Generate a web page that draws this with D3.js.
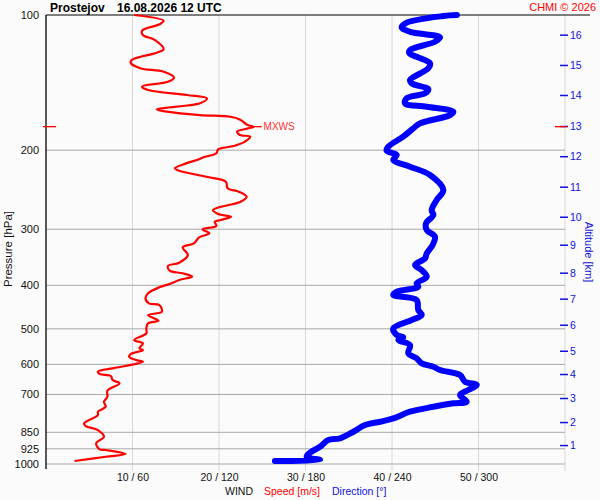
<!DOCTYPE html>
<html>
<head>
<meta charset="utf-8">
<script src="https://cdn.jsdelivr.net/npm/d3@7"></script>
<style>
  body { margin: 0; background: #fbfbfb; }
  text { font-family: "Liberation Sans", Arial, sans-serif; }
</style>
</head>
<body>
<div id="chart"></div>
<script>
// wind speed profile [m/s] vs pressure [hPa]
const speedPressure = [100, 103, 104.7, 108.4, 110.8, 113.7, 119.2, 121.3, 126, 127.9, 131.4, 133.8, 137.9, 140.8,
  144.4, 146.9, 150.7, 153.3, 157.3, 162.2, 164.2, 167.1, 168.5, 170.8, 175.8, 177.3, 178.8, 181.9, 185, 186.6,
  191.5, 195.8, 199.2, 203.2, 207.4, 209.6, 214, 219.5, 222.3, 229.2, 235.1, 243.2, 247.5, 253.9, 260.5, 268.1,
  271.9, 277.5, 281.4, 286.2, 288.7, 295.1, 300.1, 306.3, 312.7, 322.5, 329.2, 342.4, 356.2, 362.2, 371.1, 376.1,
  382.6, 389.2, 397.3, 404.1, 416.7, 427.6, 438.7, 442.5, 458, 465.9, 479.6, 486.1, 498.7, 511.7, 529.6, 538.6,
  552.6, 557.5, 568.9, 576.8, 586.7, 591.8, 605, 612.2, 622.9, 630.4, 636.8, 650, 661.2, 686.7, 708.2, 726.6,
  745.5, 764.9, 778, 811.9, 823.2, 840.2, 869.6, 899.4, 927.6, 930.9, 950.2, 963.6, 984.7];
const speedValues = [10.2, 13.6, 13.2, 11.1, 11.2, 12.6, 13.6, 12.8, 9.9, 9.8, 10.9, 13.6, 14.8, 14.1,
  11.1, 11.8, 16.3, 18.6, 17.8, 12.8, 14.0, 17.8, 21.3, 22.4, 23.3, 24.0, 23.4, 22.1, 22.4, 23.6,
  23.0, 21.7, 19.9, 19.7, 18.2, 17.7, 16.2, 14.9, 15.4, 18.5, 20.8, 21.0, 22.3, 23.2, 22.5, 20.0,
  19.3, 19.9, 21.4, 20.2, 19.5, 19.7, 18.1, 18.9, 17.7, 17.1, 15.8, 16.4, 15.4, 14.1, 14.3, 15.8,
  16.9, 15.4, 14.3, 13.1, 11.8, 11.5, 11.9, 13.1, 13.4, 11.8, 13.0, 11.8, 11.6, 11.6, 10.2, 11.2,
  10.8, 11.2, 9.8, 9.6, 10.4, 11.2, 9.2, 7.7, 6.0, 6.2, 7.5, 7.7, 8.5, 7.1, 7.1, 6.7,
  6.9, 6.0, 6.0, 4.4, 4.6, 6.0, 6.7, 5.8, 6.2, 6.9, 9.2, 6.9, 3.3];

// wind direction profile [deg] vs pressure [hPa]
const dirPressure = [100, 100.5, 104, 106.5, 109, 112.1, 114.7, 119.7, 121.7, 123.9, 128.1, 131.4, 139.6, 142,
  146.4, 149.4, 153.3, 157.3, 160.1, 164.2, 167.1, 174.3, 178.8, 186.6, 196.5, 200.6, 205, 210.3, 217.7, 227.2,
  245.4, 258.2, 271.9, 278.9, 291.1, 301.2, 311.7, 325.2, 339.4, 348.3, 360.4, 369.8, 382.7, 396, 402.9, 413.4,
  420.4, 431.3, 453.9, 465.9, 478, 498.7, 516.1, 522.2, 529.6, 543.3, 567, 581.6, 596.7, 607.2, 617.5, 633.6,
  655.6, 666.8, 684.3, 702, 726.6, 732.6, 745.5, 764.9, 791.3, 805.2, 818.9, 847.6, 876.8, 884.4, 915.2, 943.6,
  963.6, 979.7, 985];
const dirValues = [285, 275.6, 250.2, 246.7, 252.5, 273.3, 269.8, 252.5, 252, 257.1, 266.4, 265.2, 252.5, 253.7,
  265.2, 262.9, 250.2, 249, 264.1, 282.5, 280.2, 259.4, 254.8, 247.8, 237.4, 236.3, 243.3, 240.9, 252.5, 266.4,
  275.6, 271, 267.5, 268.7, 263.6, 264.1, 269.8, 268.2, 264.1, 262.9, 256, 260.6, 264.1, 257.1, 258.2, 243.3,
  240.9, 257.1, 258.2, 260.6, 253.7, 240.9, 243.3, 247.8, 244.4, 252.5, 251.3, 257.1, 260.6, 268.7, 273.3, 287.2,
  290.6, 298.8, 292.9, 287.2, 291.8, 282.5, 268.7, 252.5, 240.9, 231.7, 221.3, 213.2, 203.9, 195.8, 190.1, 183.1,
  180.8, 190.1, 158.8];

// max wind
const maxWindPressure = 177.3;
const maxWindSpeed = 24.0;

// axes
const pressureTicks = [100, 200, 300, 400, 500, 600, 700, 850, 925, 1000];
const speedTicks = [10, 20, 30, 40, 50];
const altitudeKm = [1, 2, 3, 4, 5, 6, 7, 8, 9, 10, 11, 12, 13, 14, 15, 16];
const altitudePressure = [907.4, 806.5, 712.9, 630.4, 559.5, 489.6, 428.3, 374.9, 324.8, 281.4, 241.2, 206.3,
  176.7, 150.7, 129.2, 110.6];

let dimensions = {
  width: 600,
  height: 500,
  margin: { top: 15, right: 35, bottom: 36, left: 46 },
};
dimensions.boundedWidth = dimensions.width - dimensions.margin.left - dimensions.margin.right;
dimensions.boundedHeight = dimensions.height - dimensions.margin.top - dimensions.margin.bottom;

const wrapper = d3.select("#chart")
  .append("svg")
  .attr("width", dimensions.width)
  .attr("height", dimensions.height)
  .style("background", "#fbfbfb");

const bounds = wrapper.append("g")
  .attr("transform", `translate(${dimensions.margin.left},${dimensions.margin.top})`);

const yScale = d3.scaleLog().domain([100, 1000]).range([0, dimensions.boundedHeight]);
const xSpeed = d3.scaleLinear().domain([0, 60]).range([0, dimensions.boundedWidth]);
const xDir = d3.scaleLinear().domain([0, 360]).range([0, dimensions.boundedWidth]);

// vertical grid
bounds.append("g")
  .selectAll("line")
  .data(speedTicks.concat([60]))
  .join("line")
  .attr("x1", d => xSpeed(d)).attr("x2", d => xSpeed(d))
  .attr("y1", 0).attr("y2", dimensions.boundedHeight + 7)
  .attr("stroke", "#d8d8d8");

// horizontal grid
bounds.append("g")
  .selectAll("line")
  .data(pressureTicks.slice(1))
  .join("line")
  .attr("x1", 0).attr("x2", dimensions.boundedWidth)
  .attr("y1", d => yScale(d)).attr("y2", d => yScale(d))
  .attr("stroke", "#a8a8a8");

// top and left frame
bounds.append("line")
  .attr("x1", 0).attr("x2", dimensions.boundedWidth + 25)
  .attr("y1", 0).attr("y2", 0)
  .attr("stroke", "black");
bounds.append("line")
  .attr("x1", 0).attr("x2", 0)
  .attr("y1", 0).attr("y2", dimensions.boundedHeight + 5)
  .attr("stroke", "black")
  .attr("stroke-width", 1.3);

// pressure axis
const yAxisGenerator = d3.axisLeft(yScale).tickValues(pressureTicks).tickFormat(d3.format("d")).tickSize(0).tickPadding(7);
const yAxis = bounds.append("g").call(yAxisGenerator);
yAxis.select(".domain").remove();
yAxis.selectAll("text").style("font-size", "11px").attr("fill", "#111");

// wind axis
const xAxisGenerator = d3.axisBottom(xSpeed).tickValues(speedTicks).tickSize(7).tickPadding(3)
  .tickFormat(d => `${d} / ${d * 6}`);
const xAxis = bounds.append("g")
  .attr("transform", `translate(0,${dimensions.boundedHeight})`)
  .call(xAxisGenerator);
xAxis.select(".domain").remove();
xAxis.selectAll("line").remove();
xAxis.selectAll("text").style("font-size", "10.5px").attr("fill", "#111");

// altitude axis
const altY = d3.scaleOrdinal().domain(altitudeKm).range(altitudePressure.map(p => yScale(p)));
const altAxis = bounds.append("g")
  .attr("transform", `translate(${dimensions.boundedWidth - 5},0)`)
  .call(d3.axisRight(altY).tickValues(altitudeKm).tickSize(8).tickPadding(2));
altAxis.select(".domain").remove();
altAxis.selectAll("line").attr("stroke", "#1010e0").attr("stroke-width", 1.5);
altAxis.selectAll("text").attr("fill", "#1010e0").style("font-size", "10.5px");

// wind curves
const speedData = speedPressure.map((p, i) => ({ p, v: speedValues[i] }));
const dirData = dirPressure.map((p, i) => ({ p, v: dirValues[i] }));

const speedLine = d3.line().x(d => xSpeed(d.v)).y(d => yScale(d.p)).curve(d3.curveCatmullRom.alpha(0.5));
const dirLine = d3.line().x(d => xDir(d.v)).y(d => yScale(d.p)).curve(d3.curveCatmullRom.alpha(0.5));

bounds.append("path")
  .attr("d", dirLine(dirData))
  .attr("fill", "none")
  .attr("stroke", "#0000ff")
  .attr("stroke-width", 6)
  .attr("stroke-linejoin", "round")
  .attr("stroke-linecap", "round");

bounds.append("path")
  .attr("d", speedLine(speedData))
  .attr("fill", "none")
  .attr("stroke", "#ff0000")
  .attr("stroke-width", 2.2)
  .attr("stroke-linejoin", "round");

// max wind marks
const yMax = yScale(maxWindPressure);
bounds.append("line")
  .attr("x1", -3).attr("x2", 10).attr("y1", yMax).attr("y2", yMax)
  .attr("stroke", "red").attr("stroke-width", 1.3);
bounds.append("line")
  .attr("x1", dimensions.boundedWidth - 10).attr("x2", dimensions.boundedWidth + 2).attr("y1", yMax).attr("y2", yMax)
  .attr("stroke", "red").attr("stroke-width", 1.3);
bounds.append("line")
  .attr("x1", xSpeed(maxWindSpeed)).attr("x2", xSpeed(maxWindSpeed) + 8).attr("y1", yMax).attr("y2", yMax)
  .attr("stroke", "red").attr("stroke-width", 1.3);
bounds.append("text")
  .attr("x", xSpeed(maxWindSpeed) + 10)
  .attr("y", yMax)
  .attr("dy", "0.35em")
  .attr("fill", "#f33")
  .style("font-size", "10px")
  .text("MXWS");

// titles
wrapper.append("text")
  .attr("x", 50).attr("y", 12)
  .style("font-size", "12px").style("font-weight", "bold")
  .text("Prostejov");
wrapper.append("text")
  .attr("x", 117).attr("y", 12)
  .style("font-size", "12px").style("font-weight", "bold")
  .text("16.08.2026 12 UTC");
wrapper.append("text")
  .attr("x", 596).attr("y", 11)
  .attr("text-anchor", "end")
  .attr("fill", "red")
  .style("font-size", "11px")
  .text("CHMI © 2026");

// axis labels
wrapper.append("text")
  .attr("transform", "translate(12,249) rotate(-90)")
  .attr("text-anchor", "middle")
  .attr("fill", "#111")
  .style("font-size", "11.5px")
  .text("Pressure [hPa]");
wrapper.append("text")
  .attr("transform", "translate(585,252) rotate(90)")
  .attr("text-anchor", "middle")
  .attr("fill", "#1010e0")
  .style("font-size", "11px")
  .text("Altitude [km]");

const bottomLabel = wrapper.append("text")
  .attr("x", 225).attr("y", 495)
  .style("font-size", "10.5px");
bottomLabel.append("tspan").attr("fill", "#111").text("WIND");
bottomLabel.append("tspan").attr("x", 264).attr("fill", "red").text("Speed [m/s]");
bottomLabel.append("tspan").attr("x", 332).attr("fill", "#1010e0").text("Direction [°]");
</script>
</body>
</html>
